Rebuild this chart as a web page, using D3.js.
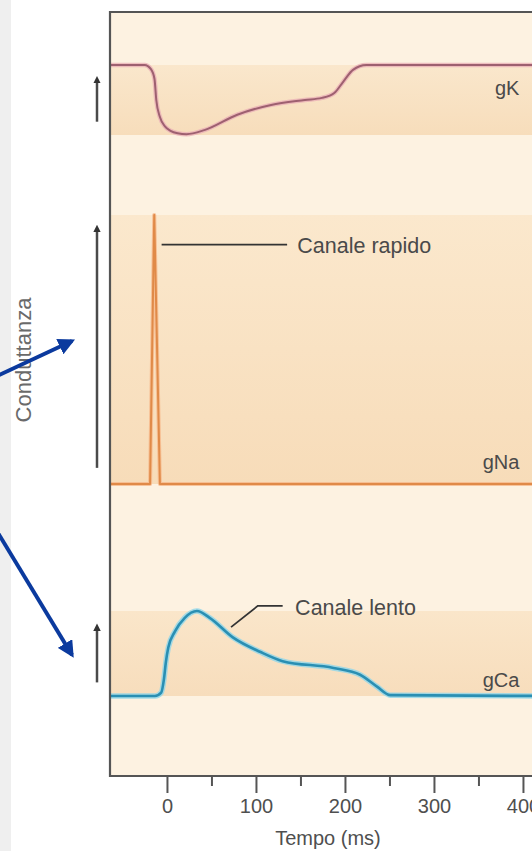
<!DOCTYPE html>
<html><head><meta charset="utf-8">
<script src="https://cdn.jsdelivr.net/npm/d3@7"></script>
<style>html,body{margin:0;padding:0;background:#fff;overflow:hidden}svg{display:block}</style>
</head><body>
<script>
// ---- data ----
const timeTicks = [0, 100, 200, 300, 400];
const minorTicks = [50, 150, 250, 350];
const gK_t = [-64, -25, -18, -14, -12, -8, -2, 4, 12, 22, 42, 79, 117, 155, 174, 188, 198, 209, 224, 450];
const gK_v = [1, 1, 0.94, 0.8, 0.5, 0.26, 0.12, 0.06, 0.025, 0.012, 0.07, 0.29, 0.43, 0.5, 0.53, 0.6, 0.76, 0.93, 1, 1];
const gNa_t = [-64, -19, -14.3, -7.9, 450];
const gNa_v = [0, 0, 1, 0, 0];
const gCa_t = [-64, -13.5, -6.5, -3.5, -1.2, 1.5, 9, 20, 33.7, 48, 74, 104.5, 130, 187, 217, 236, 251, 450];
const gCa_v = [0, 0, 0.04, 0.19, 0.4, 0.57, 0.76, 0.92, 1, 0.92, 0.69, 0.52, 0.41, 0.33, 0.25, 0.11, 0.01, 0];
const labels = ["gK", "gNa", "gCa"];

const W = 532, H = 851;
const svg = d3.select("body").append("svg").attr("width", W).attr("height", H);
const defs = svg.append("defs");

const x = d3.scaleLinear().domain([-64, 450]).range([110, 110 + 514 * 0.89]);
const yK = d3.scaleLinear().domain([0, 1]).range([135, 65]);
const yNa = d3.scaleLinear().domain([0, 1]).range([484, 215]);
const yCa = d3.scaleLinear().domain([0, 1]).range([696, 611]);
const frameTop = 12, frameBottom = 776;

// left gray strip
svg.append("rect").attr("x", 0).attr("y", 0).attr("width", 11).attr("height", H).attr("fill", "#efefef");

// plot background
svg.append("rect").attr("x", x(-64)).attr("y", frameTop).attr("width", W).attr("height", frameBottom - frameTop).attr("fill", "#fdf2e1");

function bandGrad(id, c1, c2) {
  const g = defs.append("linearGradient").attr("id", id).attr("x1", 0).attr("x2", 0).attr("y1", 0).attr("y2", 1);
  g.append("stop").attr("offset", "0%").attr("stop-color", c1);
  g.append("stop").attr("offset", "100%").attr("stop-color", c2);
}
bandGrad("bK", "#fae7cc", "#f7ddbb");
bandGrad("bNa", "#fbe8cd", "#f7dcb9");
bandGrad("bCa", "#fae6ca", "#f7ddbc");
[[yK, "bK"], [yNa, "bNa"], [yCa, "bCa"]].forEach(([ys, id]) => {
  svg.append("rect").attr("x", x(-64)).attr("y", ys(1)).attr("width", W)
    .attr("height", ys(0) - ys(1)).attr("fill", `url(#${id})`);
});

// traces
function trace(ts, vs, ys, glow, glowW, col, w, curve) {
  const pts = ts.map((t, i) => [t, vs[i]]);
  const line = d3.line().x(d => x(d[0])).y(d => ys(d[1])).curve(curve);
  svg.append("path").attr("d", line(pts)).attr("fill", "none").attr("stroke", glow)
    .attr("stroke-width", glowW).attr("stroke-linejoin", "round").attr("stroke-opacity", 0.8);
  svg.append("path").attr("d", line(pts)).attr("fill", "none").attr("stroke", col)
    .attr("stroke-width", w).attr("stroke-linejoin", "round");
}
trace(gK_t, gK_v, yK, "#eab0b6", 4.5, "#9e6070", 2, d3.curveMonotoneX);
trace(gNa_t, gNa_v, yNa, "#f6b88a", 4, "#e08a48", 2, d3.curveLinear);
trace(gCa_t, gCa_v, yCa, "#8fd6ea", 5.5, "#2a8fb3", 2.6, d3.curveMonotoneX);

// frame
svg.append("path").attr("d", `M${W + 5},${frameTop}H${x(-64)}V${frameBottom}H${W + 5}`)
  .attr("fill", "none").attr("stroke", "#555").attr("stroke-width", 2.2);

// axis
const font = "Liberation Sans, Arial, sans-serif";
const axisG = svg.append("g").attr("transform", `translate(0,${frameBottom})`);
axisG.call(d3.axisBottom(x).tickValues(timeTicks).tickSize(17).tickPadding(6).tickFormat(d3.format("d")));
axisG.call(g => g.select(".domain").remove());
axisG.selectAll(".tick line").attr("stroke", "#555").attr("stroke-width", 2);
axisG.selectAll(".tick text").attr("font-family", font).attr("font-size", 20).attr("fill", "#4f4f4f").attr("dy", "0.72em");
const minorG = svg.append("g").attr("transform", `translate(0,${frameBottom})`);
minorG.call(d3.axisBottom(x).tickValues(minorTicks).tickSize(10).tickFormat(""));
minorG.call(g => g.select(".domain").remove());
minorG.selectAll(".tick line").attr("stroke", "#555").attr("stroke-width", 2);

svg.append("text").attr("x", 328).attr("y", 845).attr("text-anchor", "middle")
  .attr("font-family", font).attr("font-size", 20).attr("fill", "#4f4f4f").text("Tempo (ms)");

// Y label
svg.append("text").attr("transform", "translate(31,360) rotate(-90)").attr("text-anchor", "middle")
  .attr("font-family", font).attr("font-size", 22).attr("fill", "#6a6a6a").text("Conduttanza");

// left vertical arrows
defs.append("marker").attr("id", "hd").attr("viewBox", "0 0 10 10").attr("refX", 5).attr("refY", 5)
  .attr("markerWidth", 3).attr("markerHeight", 3).attr("orient", "auto")
  .append("path").attr("d", "M0,0L10,5L0,10Z").attr("fill", "#333");
[[yK, 0.19, 0.79], [yNa, 0.06, 0.95], [yCa, 0.16, 0.81]].forEach(([ys, a, b]) => {
  svg.append("line").attr("x1", 97).attr("x2", 97).attr("y1", ys(a)).attr("y2", ys(b))
    .attr("stroke", "#4a4a4a").attr("stroke-width", 2.5).attr("marker-end", "url(#hd)");
});

// trace labels
[[yK, 95], [yNa, 469], [yCa, 687]].forEach(([ys, by], i) => {
  svg.append("text").attr("x", x(396)).attr("y", by).attr("text-anchor", "end")
    .attr("font-family", font).attr("font-size", 20).attr("fill", "#4a4a4a").text(labels[i]);
});

// annotations
svg.append("line").attr("x1", x(-6)).attr("x2", x(135)).attr("y1", yNa(0.89)).attr("y2", yNa(0.89))
  .attr("stroke", "#333").attr("stroke-width", 1.8);
svg.append("text").attr("x", x(146.5)).attr("y", 253).attr("font-family", font).attr("font-size", 21.5)
  .attr("fill", "#4a4a4a").text("Canale rapido");
svg.append("path").attr("d", `M${x(72)},${yCa(0.81)}L${x(102)},${yCa(1.06)}H${x(130)}`)
  .attr("fill", "none").attr("stroke", "#333").attr("stroke-width", 1.8);
svg.append("text").attr("x", x(144)).attr("y", 615).attr("font-family", font).attr("font-size", 21.5)
  .attr("fill", "#4a4a4a").text("Canale lento");

// blue arrows
defs.append("marker").attr("id", "bh").attr("viewBox", "0 0 10 10").attr("refX", 8).attr("refY", 5)
  .attr("markerWidth", 4.2).attr("markerHeight", 4.2).attr("orient", "auto").attr("markerUnits", "strokeWidth")
  .append("path").attr("d", "M0,0L10,5L0,10Z").attr("fill", "#0b3a9e");
[[-5, 377, 72, 341], [-5, 528, 72, 655]].forEach(([x1, y1, x2, y2]) => {
  svg.append("line").attr("x1", x1).attr("y1", y1).attr("x2", x2).attr("y2", y2)
    .attr("stroke", "#0b3a9e").attr("stroke-width", 4).attr("marker-end", "url(#bh)");
});
</script>
</body></html>
